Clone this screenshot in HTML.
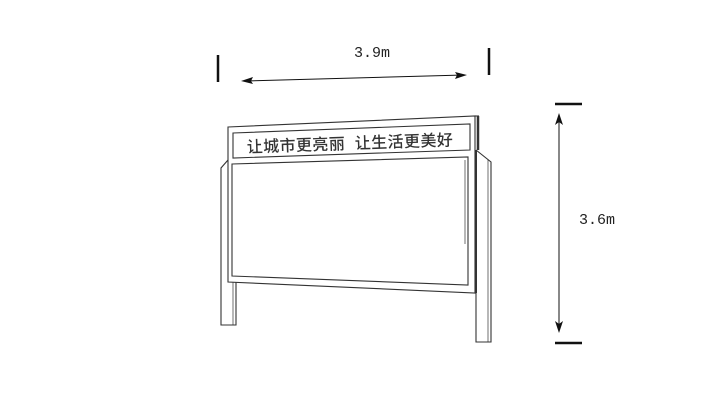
<!DOCTYPE html>
<html><head><meta charset="utf-8"><style>
html,body{margin:0;padding:0;background:#fff;}
svg{display:block;}
</style></head><body>
<svg width="720" height="400" viewBox="0 0 720 400" xmlns="http://www.w3.org/2000/svg">
<rect width="720" height="400" fill="#fff"/>
<g fill="none" stroke="#333" stroke-width="1.1">
<polyline points="228,160 221,168 221,325 236,325 236,282"/>
<line x1="233" y1="282" x2="233" y2="325" stroke-width="0.7"/>
<polyline points="476,150 491,162 491,342 476,342 476,293"/>
<line x1="488" y1="160" x2="488" y2="342" stroke-width="0.7"/>
<polygon points="228,127 475,116 475,293 228,282"/>
<line x1="478" y1="116" x2="478" y2="150" stroke-width="2.5"/>
<line x1="475" y1="116" x2="479" y2="116"/>
<line x1="476" y1="150" x2="476" y2="293" stroke-width="2"/>
<polygon points="233,133 470,124 470,150 233,158"/>
<polygon points="232,164 468,157 468,285 232,276"/>
<line x1="465" y1="160" x2="465" y2="244" stroke-width="0.7"/>
</g>
<text x="350" y="149" font-family="'Liberation Sans','Noto Sans CJK SC',sans-serif" font-size="16" font-weight="500" letter-spacing="0.4" fill="#333" text-anchor="middle" transform="rotate(-2 350 144)">让城市更亮丽&#160;&#160;让生活更美好</text>
<g stroke="#111">
<line x1="218" y1="55" x2="218" y2="82" stroke-width="2.5"/>
<line x1="489" y1="48" x2="489" y2="75" stroke-width="2.5"/>
<line x1="244" y1="81" x2="464" y2="75" stroke-width="1"/>
</g>
<polygon points="241,81 253,77 251,81 253,84" fill="#111"/>
<polygon points="467,75 455,72 457,75 455,79" fill="#111"/>
<text x="372" y="57" font-family="'Liberation Mono',monospace" font-size="15" fill="#222" text-anchor="middle">3.9m</text>
<g stroke="#111">
<line x1="555" y1="104" x2="582" y2="104" stroke-width="2.5"/>
<line x1="555" y1="343" x2="582" y2="343" stroke-width="2.5"/>
<line x1="559" y1="116" x2="559" y2="330" stroke-width="1"/>
</g>
<polygon points="559,113 555,125 559,122 563,125" fill="#111"/>
<polygon points="559,333 555,321 559,324 563,321" fill="#111"/>
<text x="597" y="224" font-family="'Liberation Mono',monospace" font-size="15" fill="#222" text-anchor="middle">3.6m</text>
</svg>
</body></html>
